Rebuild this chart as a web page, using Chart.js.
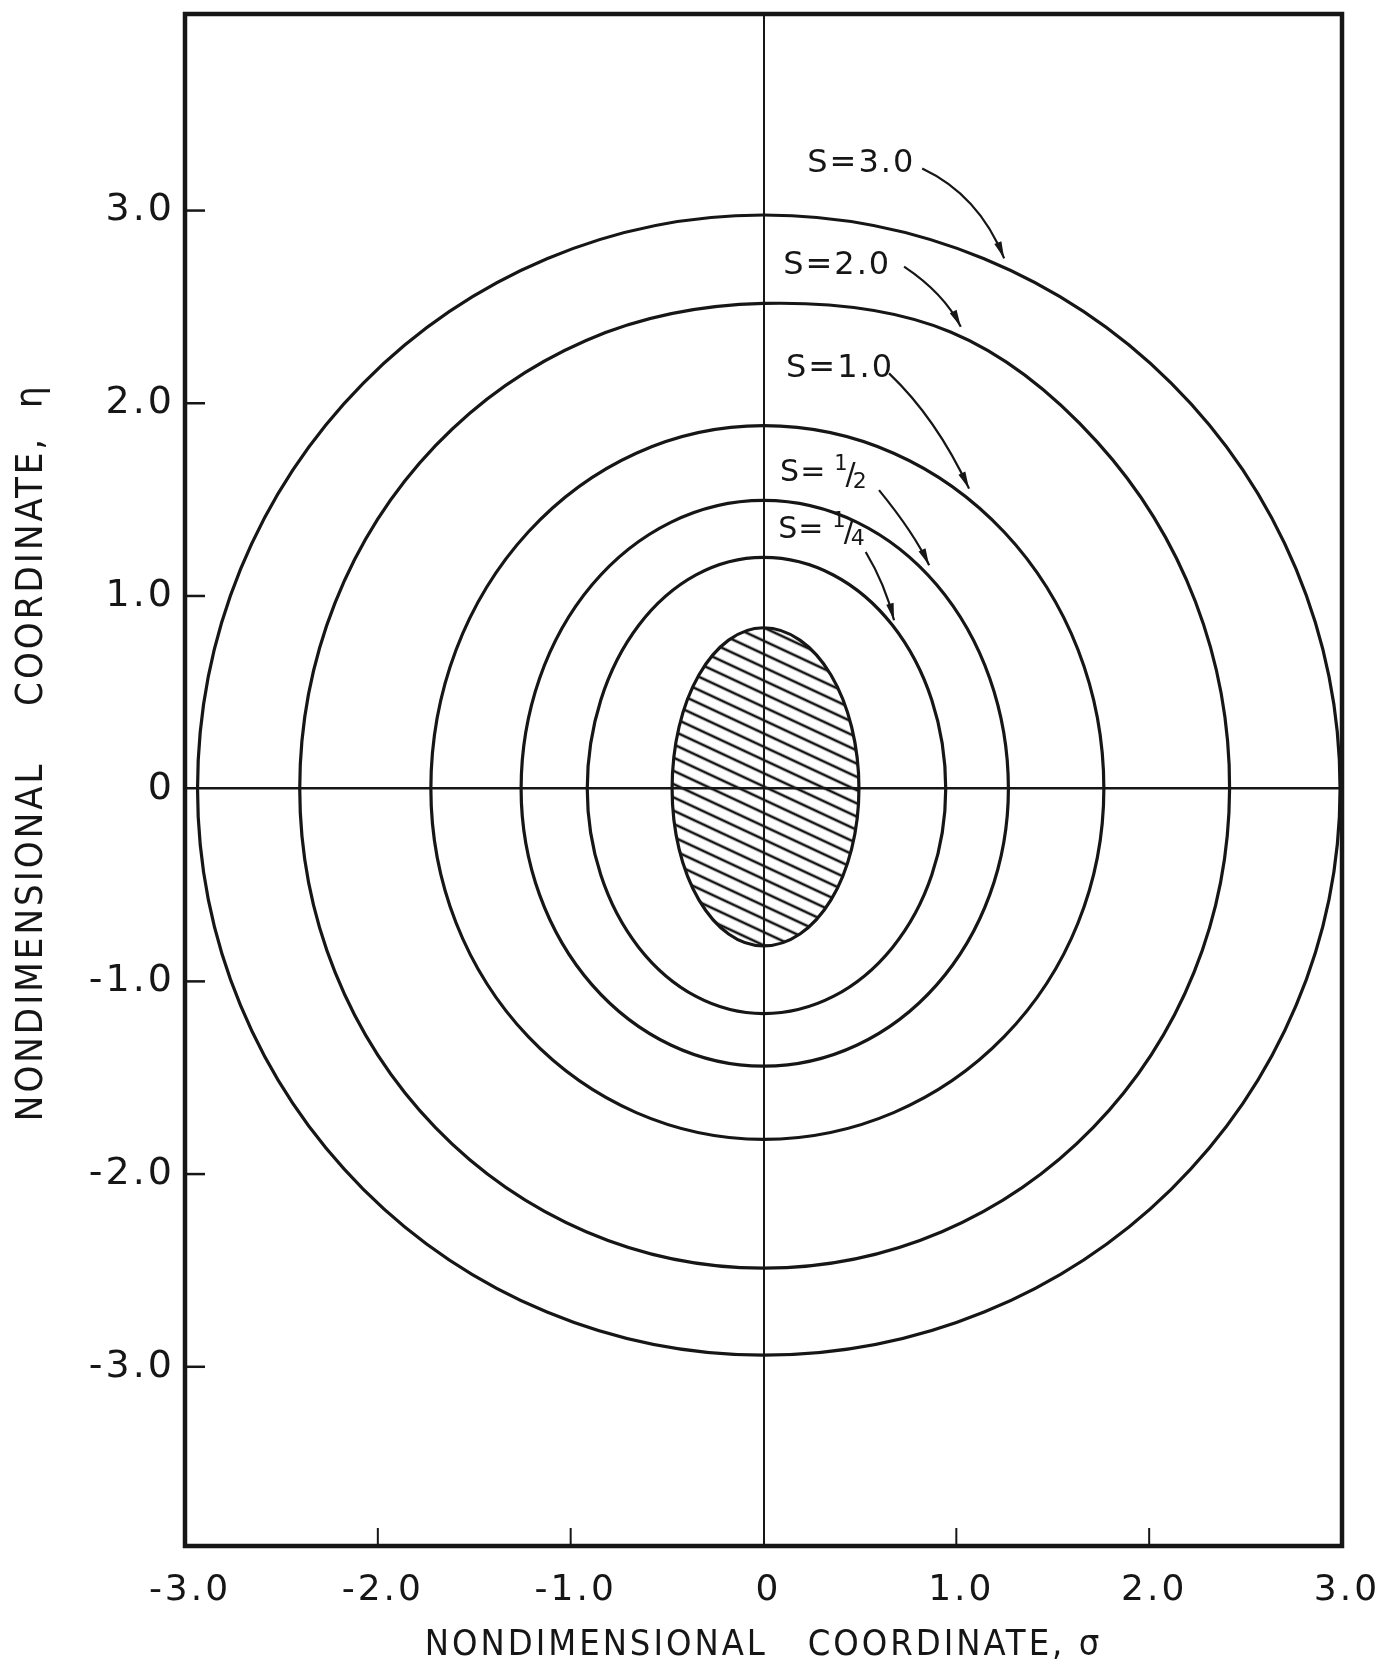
<!DOCTYPE html>
<html>
<head>
<meta charset="utf-8">
<script src="https://cdn.jsdelivr.net/npm/chart.js@4.4.1/dist/chart.umd.min.js"></script>
<style>
  html, body { margin: 0; padding: 0; background: #ffffff; }
  #wrap { width: 1377px; height: 1662px; position: relative; }
</style>
</head>
<body>
<div id="wrap"><canvas id="c"></canvas></div>
<script>
// ---------------- data ----------------
const xTicks = [-3, -2, -1, 0, 1, 2, 3];
const xTickLabels = ['-3.0', '-2.0', '-1.0', '0', '1.0', '2.0', '3.0'];
const yTicks = [-3, -2, -1, 0, 1, 2, 3];
const yTickLabels = ['-3.0', '-2.0', '-1.0', '0', '1.0', '2.0', '3.0'];

const seriesNames = ['body', 'S=1/4', 'S=1/2', 'S=1.0', 'S=2.0', 'S=3.0'];

const bodySigma = [0.495, 0.457, 0.350, 0.189, 0, -0.181, -0.335, -0.438, -0.474, -0.438, -0.335, -0.181, 0, 0.189, 0.350, 0.457];
const bodyEta   = [0, 0.320, 0.590, 0.771, 0.835, 0.771, 0.590, 0.320, 0, -0.312, -0.577, -0.754, -0.816, -0.754, -0.577, -0.312];

const sQuarterSigma = [0.945, 0.873, 0.668, 0.362, 0, -0.350, -0.646, -0.844, -0.914, -0.844, -0.646, -0.350, 0, 0.362, 0.668, 0.873];
const sQuarterEta   = [0, 0.459, 0.849, 1.109, 1.200, 1.109, 0.849, 0.459, 0, -0.447, -0.825, -1.078, -1.167, -1.078, -0.825, -0.447];

const sHalfSigma = [1.270, 1.173, 0.898, 0.486, 0, -0.481, -0.889, -1.161, -1.257, -1.161, -0.889, -0.481, 0, 0.486, 0.898, 1.173];
const sHalfEta   = [0, 0.573, 1.058, 1.382, 1.496, 1.382, 1.058, 0.573, 0, -0.551, -1.018, -1.330, -1.440, -1.330, -1.018, -0.551];

const sOneSigma = [1.765, 1.631, 1.248, 0.675, 0, -0.660, -1.220, -1.594, -1.725, -1.594, -1.220, -0.660, 0, 0.675, 1.248, 1.631];
const sOneEta   = [0, 0.721, 1.332, 1.741, 1.884, 1.741, 1.332, 0.721, 0, -0.697, -1.287, -1.681, -1.820, -1.681, -1.287, -0.697];

const sTwoSigma = [2.417, 2.240, 1.730, 0.970, 0, -0.920, -1.701, -2.222, -2.405, -2.222, -1.701, -0.920, 0, 0.925, 1.709, 2.233];
const sTwoEta   = [0, 0.970, 1.800, 2.370, 2.518, 2.326, 1.780, 0.964, 0, -0.952, -1.759, -2.299, -2.488, -2.299, -1.759, -0.952];

const sThreeSigma = [2.990, 2.762, 2.114, 1.144, 0, -1.123, -2.075, -2.712, -2.935, -2.712, -2.075, -1.123, 0, 1.144, 2.114, 2.762];
const sThreeEta   = [0, 1.139, 2.105, 2.750, 2.977, 2.750, 2.105, 1.139, 0, -1.125, -2.079, -2.716, -2.940, -2.716, -2.079, -1.125];

// ---------------- annotations (labels + leader arrows, in data units) ----------------
const curveLabels = [
  { text: 'S=3.0', s: 0.227, e: 3.245 },
  { text: 'S=2.0', s: 0.102, e: 2.714 },
  { text: 'S=1.0', s: 0.117, e: 2.180 },
  { text: 'S=', num: '1', den: '2', s: 0.086, e: 1.636 },
  { text: 'S=', num: '1', den: '4', s: 0.076, e: 1.342 }
];
const leaders = [
  { a: [0.823, 3.218], c: [1.117, 3.080], b: [1.248, 2.752] },
  { a: [0.729, 2.709], c: [0.937, 2.570], b: [1.023, 2.397] },
  { a: [0.651, 2.155], c: [0.896, 1.922], b: [1.066, 1.557] },
  { a: [0.599, 1.549], c: [0.784, 1.322], b: [0.859, 1.159] },
  { a: [0.530, 1.228], c: [0.630, 1.062], b: [0.677, 0.874] }
];

const INK = '#161616';

// ---------------- helpers ----------------
function closedPoints(sig, eta) {
  const n = sig.length;
  const pts = sig.map((s, i) => ({ x: s, y: eta[i] }));
  return [pts[n - 1], ...pts, pts[0], pts[1]];
}
function curveDataset(label, sig, eta, extra) {
  const n = sig.length;
  return Object.assign({
    label: label,
    data: closedPoints(sig, eta),
    showLine: true,
    borderColor: INK,
    borderWidth: 3.2,
    pointRadius: 0,
    pointHoverRadius: 0,
    tension: 0.34,
    fill: false,
    borderJoinStyle: 'round',
    borderCapStyle: 'round',
    segment: {
      borderColor: c => (c.p0DataIndex === 0 || c.p0DataIndex === n + 1) ? 'rgba(0,0,0,0)' : INK
    }
  }, extra || {});
}
function buildHatch() {
  const tile = document.createElement('canvas');
  tile.width = 24; tile.height = 12;
  const t = tile.getContext('2d');
  t.strokeStyle = INK; t.lineWidth = 2.6;
  t.beginPath(); t.moveTo(0, 6); t.lineTo(24, 6); t.stroke();
  const p = document.getElementById('c').getContext('2d').createPattern(tile, 'repeat');
  p.setTransform(new DOMMatrix().rotate(25));
  return p;
}

const hatch = buildHatch();

const datasets = [
  curveDataset(seriesNames[0], bodySigma, bodyEta, { fill: 'shape', backgroundColor: hatch }),
  curveDataset(seriesNames[1], sQuarterSigma, sQuarterEta),
  curveDataset(seriesNames[2], sHalfSigma, sHalfEta),
  curveDataset(seriesNames[3], sOneSigma, sOneEta),
  curveDataset(seriesNames[4], sTwoSigma, sTwoEta),
  curveDataset(seriesNames[5], sThreeSigma, sThreeEta)
];

// ---------------- decoration plugin ----------------
const decor = {
  id: 'decor',
  beforeDraw(chart) {
    chart.ctx.letterSpacing = '3px';
  },
  afterDatasetsDraw(chart) {
    const ctx = chart.ctx;
    const a = chart.chartArea;
    const x = chart.scales.x, y = chart.scales.y;
    ctx.save();
    ctx.strokeStyle = INK; ctx.fillStyle = INK;
    ctx.lineCap = 'butt';

    // inward tick marks
    ctx.lineWidth = 2.5;
    yTicks.forEach(v => {
      if (v === 0) return;
      const py = y.getPixelForValue(v);
      ctx.beginPath(); ctx.moveTo(a.left, py); ctx.lineTo(a.left + 20, py); ctx.stroke();
    });
    ctx.lineWidth = 2;
    xTicks.forEach((v, i) => {
      if (v === 0 || i === 0 || i === xTicks.length - 1) return;
      const px = x.getPixelForValue(v);
      ctx.beginPath(); ctx.moveTo(px, a.bottom); ctx.lineTo(px, a.bottom - 18); ctx.stroke();
    });

    // frame
    ctx.lineWidth = 4.5;
    ctx.strokeRect(a.left, a.top, a.right - a.left, a.bottom - a.top);

    // leader arrows
    leaders.forEach(L => {
      const ax = x.getPixelForValue(L.a[0]), ay = y.getPixelForValue(L.a[1]);
      const cx = x.getPixelForValue(L.c[0]), cy = y.getPixelForValue(L.c[1]);
      const bx = x.getPixelForValue(L.b[0]), by = y.getPixelForValue(L.b[1]);
      ctx.lineWidth = 2.2;
      ctx.beginPath(); ctx.moveTo(ax, ay); ctx.quadraticCurveTo(cx, cy, bx, by); ctx.stroke();
      const ang = Math.atan2(by - cy, bx - cx);
      const len = 17, hw = 3.8;
      ctx.beginPath();
      ctx.moveTo(bx, by);
      ctx.lineTo(bx - len * Math.cos(ang) + hw * Math.sin(ang), by - len * Math.sin(ang) - hw * Math.cos(ang));
      ctx.lineTo(bx - len * Math.cos(ang) - hw * Math.sin(ang), by - len * Math.sin(ang) + hw * Math.cos(ang));
      ctx.closePath(); ctx.fill();
    });

    // curve labels
    ctx.textAlign = 'left';
    ctx.textBaseline = 'middle';
    curveLabels.forEach(L => {
      let px = x.getPixelForValue(L.s);
      const py = y.getPixelForValue(L.e);
      if (!L.num) {
        ctx.font = '32px "DejaVu Sans"'; ctx.letterSpacing = '2px';
        ctx.fillText(L.text, px, py);
        return;
      }
      ctx.letterSpacing = '1px';
      ctx.font = '30px "DejaVu Sans"';
      ctx.fillText(L.text, px, py);
      px += ctx.measureText(L.text).width + 8;
      ctx.font = '21px "DejaVu Sans"';
      ctx.fillText(L.num, px, py - 9);
      px += ctx.measureText(L.num).width - 3;
      ctx.font = '30px "DejaVu Sans"';
      ctx.fillText('/', px, py + 3);
      px += ctx.measureText('/').width - 4;
      ctx.font = '22px "DejaVu Sans"';
      ctx.fillText(L.den, px, py + 9);
    });
    ctx.restore();
  }
};

// ---------------- chart ----------------
const yTickFont = { family: '"DejaVu Sans", sans-serif', size: 38 };
const xTickFont = { family: '"DejaVu Sans", sans-serif', size: 36 };
const titleFamily = '"DejaVu Sans Condensed", "Liberation Sans Narrow", "DejaVu Sans", sans-serif';

new Chart(document.getElementById('c'), {
  type: 'scatter',
  data: { datasets: datasets },
  plugins: [decor],
  options: {
    responsive: true,
    maintainAspectRatio: false,
    animation: false,
    events: [],
    layout: { padding: { left: 0, right: 35, top: 14, bottom: 0 } },
    plugins: { legend: { display: false }, tooltip: { enabled: false } },
    scales: {
      x: {
        type: 'linear', position: 'bottom', min: -3, max: 3,
        afterBuildTicks: s => { s.ticks = xTicks.map(v => ({ value: v })); },
        afterFit: s => { s.height = 116; s.paddingLeft = 0; s.paddingRight = 0; },
        ticks: {
          callback: v => { const i = xTicks.indexOf(v); return i >= 0 ? xTickLabels[i] : ''; },
          font: xTickFont, color: INK, padding: 23, labelOffset: 5,
          maxRotation: 0, minRotation: 0, autoSkip: false
        },
        grid: {
          drawTicks: false,
          color: c => (c.tick && c.tick.value === 0) ? INK : 'rgba(0,0,0,0)',
          lineWidth: 2
        },
        border: { display: false },
        title: {
          display: true,
          text: 'NONDIMENSIONAL   COORDINATE, σ',
          font: { family: titleFamily, size: 36, lineHeight: 0.8 },
          color: INK,
          padding: { top: 0, bottom: 2 }
        }
      },
      y: {
        type: 'linear', position: 'left', min: -3.93, max: 4.02,
        afterBuildTicks: s => { s.ticks = yTicks.map(v => ({ value: v })); },
        afterFit: s => { s.width = 185; s.paddingTop = 0; s.paddingBottom = 0; },
        ticks: {
          callback: v => { const i = yTicks.indexOf(v); return i >= 0 ? yTickLabels[i] : ''; },
          font: yTickFont, color: INK, padding: 10, autoSkip: false
        },
        grid: {
          drawTicks: false,
          color: c => (c.tick && c.tick.value === 0) ? INK : 'rgba(0,0,0,0)',
          lineWidth: 2.5
        },
        border: { display: false },
        title: {
          display: true,
          text: '    NONDIMENSIONAL    COORDINATE,  η',
          font: { family: titleFamily, size: 38 },
          color: INK,
          padding: { top: 9, bottom: 0 }
        }
      }
    }
  }
});
</script>
</body>
</html>
